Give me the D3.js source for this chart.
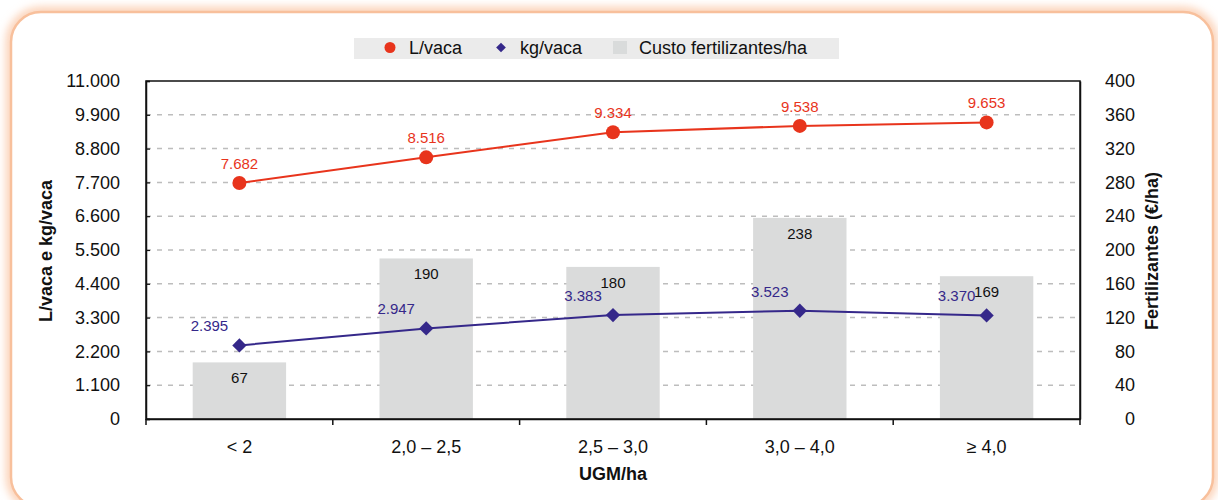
<!DOCTYPE html>
<html>
  <head>
    <meta charset="UTF-8" />
    <title>UGM/ha</title>
    <script src="https://d3js.org/d3.v7.min.js"></script>
    <style>
      body { margin: 0; background: #fff; }
      svg text { font-family: "Liberation Sans", Arial, Helvetica, sans-serif; }
    </style>
  </head>
  <body>
    <svg width="1218" height="500"></svg>
    <script>
      var categories = ["< 2", "2,0 – 2,5", "2,5 – 3,0", "3,0 – 4,0", "≥ 4,0"];
      var litrosVaca = [7682, 8516, 9334, 9538, 9653];
      var kgVaca = [2395, 2947, 3383, 3523, 3370];
      var custoFert = [67, 190, 180, 238, 169];
      var leftTicks = [0, 1100, 2200, 3300, 4400, 5500, 6600, 7700, 8800, 9900, 11000];
      var rightTicks = [0, 40, 80, 120, 160, 200, 240, 280, 320, 360, 400];

      var red = "#e8341c", purple = "#35288a", barGrey = "#dadbdb";

      var svg = d3.select("svg"),
        margin = { top: 81, right: 138, bottom: 81, left: 146 },
        width = +svg.attr("width") - margin.left - margin.right,
        height = +svg.attr("height") - margin.top - margin.bottom;

      // rounded frame with soft orange glow
      var defs = svg.append("defs");
      defs.append("filter").attr("id", "glow")
        .attr("x", "-5%").attr("y", "-5%").attr("width", "110%").attr("height", "110%")
        .append("feGaussianBlur").attr("stdDeviation", 4);
      svg.append("rect")
        .attr("x", 11).attr("y", 12).attr("width", 1202).attr("height", 495)
        .attr("rx", 30)
        .attr("fill", "none").attr("stroke", "#fbcfb2").attr("stroke-width", 10)
        .attr("filter", "url(#glow)");
      svg.append("rect")
        .attr("x", 11).attr("y", 12).attr("width", 1202).attr("height", 495)
        .attr("rx", 30)
        .attr("fill", "#fff").attr("stroke", "#f8c09c").attr("stroke-width", 2.5);

      var fmt = function (v) { return d3.format(",")(v).replace(/,/g, "."); };

      var x = d3.scaleBand().domain(categories).range([0, width]);
      var yL = d3.scaleLinear().domain([0, 11000]).range([height, 0]);
      var yR = d3.scaleLinear().domain([0, 400]).range([height, 0]);

      var g = svg.append("g")
        .attr("transform", "translate(" + margin.left + "," + margin.top + ")");

      // dashed grid
      g.append("g")
        .selectAll("line")
        .data(leftTicks.slice(1, -1))
        .enter()
        .append("line")
        .attr("x1", 0).attr("x2", width)
        .attr("y1", function (d) { return yL(d); })
        .attr("y2", function (d) { return yL(d); })
        .attr("stroke", "#bdbdbd").attr("stroke-width", 1.5)
        .attr("stroke-dasharray", "5,6");

      // bars
      var barW = x.bandwidth() * 0.5;
      g.append("g")
        .selectAll("rect")
        .data(custoFert)
        .enter()
        .append("rect")
        .attr("x", function (d, i) { return x(categories[i]) + (x.bandwidth() - barW) / 2; })
        .attr("y", function (d) { return yR(d); })
        .attr("width", barW)
        .attr("height", function (d) { return height - yR(d); })
        .attr("fill", barGrey);

      g.append("g")
        .selectAll("text")
        .data(custoFert)
        .enter()
        .append("text")
        .attr("x", function (d, i) { return x(categories[i]) + x.bandwidth() / 2; })
        .attr("y", function (d) { return yR(d) + 21; })
        .attr("text-anchor", "middle")
        .attr("font-size", 15)
        .attr("fill", "#111")
        .text(function (d) { return d; });

      // box
      g.append("rect")
        .attr("width", width).attr("height", height)
        .attr("fill", "none").attr("stroke", "#111").attr("stroke-width", 1.5);

      // left axis
      var axL = g.append("g")
        .call(d3.axisLeft(yL).tickValues(leftTicks).tickSize(-4).tickPadding(26).tickFormat(fmt));
      axL.select(".domain").attr("stroke", "#111").attr("stroke-width", 1.5);
      axL.selectAll(".tick line").attr("stroke", "#111").attr("stroke-width", 1.2);
      axL.selectAll("text").attr("font-size", 18).attr("fill", "#111")
        .attr("font-family", "Liberation Sans, Arial, sans-serif");

      // right axis
      var axR = g.append("g")
        .attr("transform", "translate(" + width + ",0)")
        .call(d3.axisRight(yR).tickValues(rightTicks).tickSize(0).tickPadding(55));
      axR.select(".domain").attr("stroke", "#111").attr("stroke-width", 1.5);
      axR.selectAll("text").attr("font-size", 18).attr("fill", "#111")
        .attr("text-anchor", "end")
        .attr("font-family", "Liberation Sans, Arial, sans-serif");

      // bottom axis: ticks at category boundaries
      var axB = g.append("g")
        .attr("transform", "translate(0," + height + ")")
        .call(d3.axisBottom(x).tickSize(0).tickPadding(21));
      axB.select(".domain").attr("stroke", "#111").attr("stroke-width", 1.5);
      axB.selectAll("text").attr("font-size", 18).attr("fill", "#111")
        .attr("font-family", "Liberation Sans, Arial, sans-serif");
      g.append("g")
        .attr("transform", "translate(0," + height + ")")
        .selectAll("line")
        .data(d3.range(categories.length + 1))
        .enter()
        .append("line")
        .attr("x1", function (i) { return i * x.step(); })
        .attr("x2", function (i) { return i * x.step(); })
        .attr("y1", 0).attr("y2", 6)
        .attr("stroke", "#111").attr("stroke-width", 1.5);

      var cx = function (d, i) { return x(categories[i]) + x.bandwidth() / 2; };

      // L/vaca line
      g.append("path")
        .datum(litrosVaca)
        .attr("fill", "none").attr("stroke", red).attr("stroke-width", 2)
        .attr("d", d3.line().x(cx).y(function (d) { return yL(d); }));
      g.append("g")
        .selectAll("circle")
        .data(litrosVaca)
        .enter()
        .append("circle")
        .attr("cx", cx)
        .attr("cy", function (d) { return yL(d); })
        .attr("r", 7)
        .attr("fill", red);
      g.append("g")
        .selectAll("text")
        .data(litrosVaca)
        .enter()
        .append("text")
        .attr("x", cx)
        .attr("y", function (d) { return yL(d) - 14; })
        .attr("text-anchor", "middle")
        .attr("font-size", 15)
        .attr("fill", red)
        .text(fmt);

      // kg/vaca line
      g.append("path")
        .datum(kgVaca)
        .attr("fill", "none").attr("stroke", purple).attr("stroke-width", 2)
        .attr("d", d3.line().x(cx).y(function (d) { return yL(d); }));
      g.append("g")
        .selectAll("path")
        .data(kgVaca)
        .enter()
        .append("path")
        .attr("d", d3.symbol().type(d3.symbolDiamond2).size(130))
        .attr("transform", function (d, i) { return "translate(" + cx(d, i) + "," + yL(d) + ")"; })
        .attr("fill", purple);
      g.append("g")
        .selectAll("text")
        .data(kgVaca)
        .enter()
        .append("text")
        .attr("x", function (d, i) { return cx(d, i) - 30; })
        .attr("y", function (d) { return yL(d) - 14; })
        .attr("text-anchor", "middle")
        .attr("font-size", 15)
        .attr("fill", purple)
        .text(fmt);

      // axis titles
      svg.append("text")
        .attr("transform", "translate(52,251) rotate(-90)")
        .attr("text-anchor", "middle")
        .attr("font-size", 18).attr("font-weight", "bold").attr("fill", "#111")
        .text("L/vaca e kg/vaca");
      svg.append("text")
        .attr("transform", "translate(1158,251) rotate(-90)")
        .attr("text-anchor", "middle")
        .attr("font-size", 18).attr("font-weight", "bold").attr("fill", "#111")
        .text("Fertilizantes (€/ha)");
      svg.append("text")
        .attr("x", margin.left + width / 2).attr("y", 480)
        .attr("text-anchor", "middle")
        .attr("font-size", 18).attr("font-weight", "bold").attr("fill", "#111")
        .text("UGM/ha");

      // legend
      var lg = svg.append("g").attr("transform", "translate(354,38)");
      lg.append("rect").attr("width", 485).attr("height", 21).attr("fill", "#ebebeb");
      lg.append("circle").attr("cx", 36).attr("cy", 9.5).attr("r", 5.5).attr("fill", red);
      lg.append("path")
        .attr("d", d3.symbol().type(d3.symbolDiamond2).size(60))
        .attr("transform", "translate(147,9.5)").attr("fill", purple);
      lg.append("rect").attr("x", 259).attr("y", 3).attr("width", 14).attr("height", 13).attr("fill", "#d9dbdb");
      var legTexts = [["L/vaca", 55], ["kg/vaca", 166], ["Custo fertilizantes/ha", 285]];
      lg.selectAll("text")
        .data(legTexts)
        .enter()
        .append("text")
        .attr("x", function (d) { return d[1]; })
        .attr("y", 16)
        .attr("font-size", 18).attr("fill", "#111")
        .text(function (d) { return d[0]; });
    </script>
  </body>
</html>
